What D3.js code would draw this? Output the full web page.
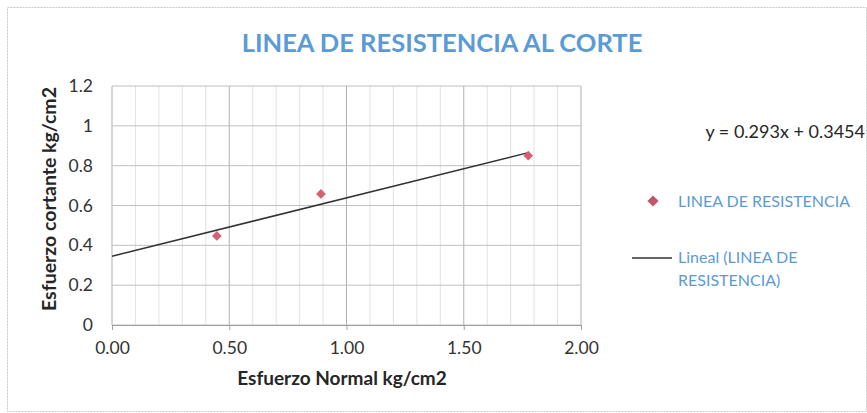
<!DOCTYPE html>
<html><head><meta charset="utf-8">
<script src="https://cdn.jsdelivr.net/npm/d3@7"></script>
<style>body{margin:0;background:#fff}svg{display:block}</style>
</head><body>
<svg id="c" width="867" height="413"></svg>
<script>
const title = "LINEA DE RESISTENCIA AL CORTE";
const xValues = [0.447, 0.891, 1.775];
const yValues = [0.447, 0.658, 0.85];
const xTicks = [0, 0.5, 1.0, 1.5, 2.0];
const yTicks = [0, 0.2, 0.4, 0.6, 0.8, 1.0, 1.2];
const trendSlope = 0.293, trendIntercept = 0.3454;
const seriesName = "LINEA DE RESISTENCIA";
const trendName = ["Lineal (LINEA DE", "RESISTENCIA)"];
const xTitle = "Esfuerzo Normal kg/cm2", yTitle = "Esfuerzo cortante kg/cm2";

const svg = d3.select("#c");
const font = "Lato, 'Open Sans', sans-serif";
const L = 112, R = 581, T = 86, B = 325;
const x = d3.scaleLinear().domain([0, 2]).range([L, R]);
const y = d3.scaleLinear().domain([0, 1.2]).range([B, T]);

svg.append("rect").attr("x", 7.5).attr("y", 7.5).attr("width", 859).attr("height", 404)
  .attr("fill", "none").attr("stroke", "#c8c8c8").attr("stroke-dasharray", "2,1");

const g = svg.append("g");
g.selectAll(".vm").data(d3.range(0, 2.001, 0.1)).join("line")
  .attr("x1", d => x(d)).attr("x2", d => x(d)).attr("y1", T).attr("y2", B)
  .attr("stroke", d => Math.abs(d*2 - Math.round(d*2)) < 1e-6 ? "#b0b0b0" : "#e2e2e2").attr("stroke-width", 1);
g.selectAll(".hm").data(yTicks).join("line")
  .attr("x1", L).attr("x2", R).attr("y1", d => y(d)).attr("y2", d => y(d))
  .attr("stroke", "#c0c0c0").attr("stroke-width", 1);

const xa = svg.append("g").attr("transform", `translate(0,${B})`)
  .call(d3.axisBottom(x).tickValues(xTicks).tickFormat(d3.format(".2f")).tickSize(5).tickPadding(12));
xa.select(".domain").attr("stroke", "#a0a0a0");
xa.selectAll(".tick line").attr("stroke", "#a0a0a0");
xa.selectAll("text").attr("font-family", font).attr("font-size", 17.5).attr("fill", "#333");

const ya = svg.append("g").attr("transform", `translate(${L},0)`)
  .call(d3.axisLeft(y).tickValues(yTicks).tickFormat(d => d3.format("")(+d.toFixed(1))).tickSize(0).tickPadding(19));
ya.select(".domain").remove();
ya.selectAll("text").attr("font-family", font).attr("font-size", 17.5).attr("fill", "#333");

const xEnd = d3.max(xValues);
svg.append("line").attr("x1", x(0)).attr("y1", y(trendIntercept))
  .attr("x2", x(xEnd)).attr("y2", y(trendSlope * xEnd + trendIntercept))
  .attr("stroke", "#333").attr("stroke-width", 1.5);

const diamond = d3.symbol().type(d3.symbolDiamond2).size(60);
svg.selectAll(".pt").data(xValues.map((v, i) => [v, yValues[i]])).join("path")
  .attr("d", diamond).attr("transform", d => `translate(${x(d[0])},${y(d[1])})`)
  .attr("fill", "#d65f74");

svg.append("text").attr("x", 442).attr("y", 52).attr("text-anchor", "middle")
  .attr("font-family", font).attr("font-weight", "bold").attr("font-size", 25.5)
  .attr("fill", "#5b9bd5").text(title);

svg.append("text").attr("x", 342).attr("y", 385).attr("text-anchor", "middle")
  .attr("font-family", font).attr("font-weight", "bold").attr("font-size", 19)
  .attr("fill", "#262626").text(xTitle);
svg.append("text").attr("transform", "translate(56,199) rotate(-90)").attr("text-anchor", "middle")
  .attr("font-family", font).attr("font-weight", "bold").attr("font-size", 19.5)
  .attr("fill", "#262626").text(yTitle);

svg.append("text").attr("x", 865).attr("y", 138).attr("text-anchor", "end")
  .attr("font-family", font).attr("font-size", 18).attr("fill", "#262626")
  .text(`y = ${trendSlope}x + ${trendIntercept}`);

const diamondL = d3.symbol().type(d3.symbolDiamond2).size(80);
svg.append("path").attr("d", diamondL).attr("transform", "translate(653,201)").attr("fill", "#c0566a");
svg.append("text").attr("x", 678).attr("y", 207).attr("font-family", font).attr("font-size", 16)
  .attr("fill", "#5b9bd5").text(seriesName);
svg.append("line").attr("x1", 632).attr("x2", 672).attr("y1", 258).attr("y2", 258)
  .attr("stroke", "#333").attr("stroke-width", 1.5);
svg.append("text").attr("font-family", font).attr("font-size", 16).attr("fill", "#5b9bd5")
  .selectAll("tspan").data(trendName).join("tspan")
  .attr("x", 678).attr("y", (d, i) => 263 + i * 23).text(d => d);
</script>
</body></html>
